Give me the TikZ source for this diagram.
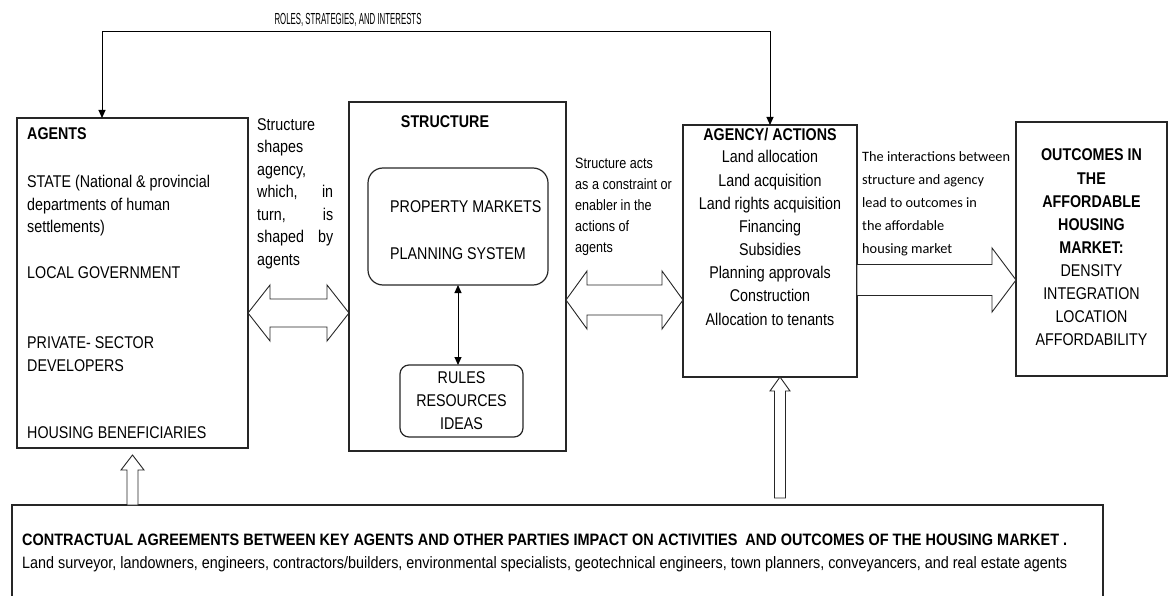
\documentclass[tikz,border=0pt]{standalone}
\usepackage{fontspec}
\setmainfont{Liberation Sans}[FakeStretch=0.84]
\newfontfamily\calfont{Carlito}
\usepackage{graphicx}
\usetikzlibrary{calc,arrows.meta}
\newcommand{\dblarr}[5]{%
  \draw[blk] (#1) -- ($(#1)+(#3,-#4)$) -- ($(#1)+(#3,-#5)$) -- ($(#2)+(-#3,-#5)$)
    -- ($(#2)+(-#3,-#4)$) -- (#2) -- ($(#2)+(-#3,#4)$) -- ($(#2)+(-#3,#5)$)
    -- ($(#1)+(#3,#5)$) -- ($(#1)+(#3,#4)$) -- cycle;}
\newcommand{\uparr}[5]{% tail, tip, headlen, headhalf, shafthalf
  \draw[blk] ($(#1)+(-#5,0)$) -- ($(#2)+(-#5,#3)$) -- ($(#2)+(-#4,#3)$) -- (#2)
    -- ($(#2)+(#4,#3)$) -- ($(#2)+(#5,#3)$) -- ($(#1)+(#5,0)$) -- cycle;}
\begin{document}
\begin{tikzpicture}[x=1pt,y=-1pt,
  box/.style={draw=black!85, line width=1.2pt, inner sep=0pt, outer sep=0pt, anchor=north west},
  t16/.style={inner sep=0pt, anchor=base west, font=\fontsize{17}{19}\selectfont},
  tb16/.style={t16, font=\fontsize{17}{19}\selectfont\bfseries},
  c16/.style={inner sep=0pt, anchor=base, font=\fontsize{17}{19}\selectfont},
  cb16/.style={c16, font=\fontsize{17}{19}\selectfont\bfseries},
  s14/.style={inner sep=0pt, anchor=base west, font=\fontsize{15}{17}\selectfont},
  cal/.style={inner sep=0pt, anchor=base west, font=\fontsize{14.3}{17}\calfont},
  blk/.style={draw=black!85, line width=0.9pt, fill=white, line join=miter},
  conn/.style={draw=black, line width=1pt},
  arrtip/.style={{Triangle[width=7pt,length=8pt]}-{Triangle[width=7pt,length=8pt]}}
]
\useasboundingbox (0,0) rectangle (1170,596);

% main boxes
\node[box, minimum width=231pt, minimum height=330pt] (agents) at (17,118) {};
\node[box, minimum width=217pt, minimum height=349pt] (structure) at (349,102) {};
\node[box, minimum width=174pt, minimum height=252pt] (agency) at (683,125) {};
\node[box, minimum width=151pt, minimum height=254pt] (outcomes) at (1016,122) {};
\node[box, minimum width=1091pt, minimum height=100pt] (bottom) at (12,505) {};
\node[box, rounded corners=15pt, minimum width=180pt, minimum height=117pt] (pm) at (368,168) {};
\node[box, rounded corners=9pt, minimum width=123pt, minimum height=72pt] (rules) at (400,365) {};

% top connector
\coordinate (tl) at ($(agents.north west)+(85,0)$);
\coordinate (topy) at (0,32);
\draw[conn, arrtip] (agency.north) -- (agency.north |- topy) -- (tl |- topy) -- (tl);
\node[inner sep=0pt, anchor=base] (roles) at (348,25)
  {\resizebox{147pt}{\height}{\fontsize{16}{18}\selectfont ROLES, STRATEGIES, AND INTERESTS}};

% inner double arrow
\draw[conn, arrtip] (pm.south) -- (pm.south |- rules.north);

% block arrows
\coordinate (y313) at (0,313);
\coordinate (la) at (agents.east |- y313);
\coordinate (ra) at (structure.west |- y313);
\dblarr{la}{ra}{22}{28}{14}
\coordinate (y300) at (0,300);
\coordinate (lb) at (structure.east |- y300);
\coordinate (rb) at (agency.west |- y300);
\dblarr{lb}{rb}{21}{29}{15}
\coordinate (y280) at (0,280);
\coordinate (lc) at (agency.east |- y280);
\coordinate (rc) at (outcomes.west |- y280);
\draw[blk] ($(lc)+(0,-15.5)$) -- ($(rc)+(-24,-15.5)$) -- ($(rc)+(-24,-32)$) -- (rc)
  -- ($(rc)+(-24,32)$) -- ($(rc)+(-24,15.5)$) -- ($(lc)+(0,15.5)$) -- cycle;
\coordinate (ua) at ($(agency.south)+(10,0)$);
\coordinate (ub) at ($(bottom.north -| ua)+(0,-7)$);
\uparr{ub}{ua}{14}{10}{5.5}
\coordinate (va) at ($(agents.south)+(0,7)$);
\coordinate (vb) at (bottom.north -| va);
\uparr{vb}{va}{15}{11.5}{5.5}

% agents text
\node[tb16] (agT) at (27,140) {AGENTS};
\node[t16] (ag1) at (27,188) {STATE (National \& provincial};
\node[t16] (ag2) at (27,210.5) {departments of human};
\node[t16] (ag3) at (27,233) {settlements)};
\node[t16] (ag4) at (27,278) {LOCAL GOVERNMENT};
\node[t16] (ag5) at (27,348) {PRIVATE- SECTOR};
\node[t16] (ag6) at (27,371) {DEVELOPERS};
\node[t16] (ag7) at (27,438) {HOUSING BENEFICIARIES};

% structure shapes agency text
\node[t16] (sh1) at (257,130.5) {\makebox[76pt][l]{Structure}};
\node[t16] (sh2) at (257,153) {\makebox[76pt][l]{shapes}};
\node[t16] (sh3) at (257,175.5) {\makebox[76pt][l]{agency,}};
\node[t16] (sh4) at (257,198) {\makebox[76pt][s]{which,\hfill in}};
\node[t16] (sh5) at (257,220.5) {\makebox[76pt][s]{turn,\hfill is}};
\node[t16] (sh6) at (257,243) {\makebox[76pt][s]{shaped\hfill by}};
\node[t16] (sh7) at (257,265.5) {\makebox[76pt][l]{agents}};

% structure text
\node[cb16] (stT) at (445,128) {STRUCTURE};
\node[t16] (st1) at (390,213) {PROPERTY MARKETS};
\node[t16] (st2) at (390,259) {PLANNING SYSTEM};
\node[c16] (ru1) at (461.5,383) {RULES};
\node[c16] (ru2) at (461.5,406) {RESOURCES};
\node[c16] (ru3) at (461.5,429) {IDEAS};

% structure acts text
\node[s14] (sa1) at (575,169) {Structure acts};
\node[s14] (sa2) at (575,190) {as a constraint or};
\node[s14] (sa3) at (575,211) {enabler in the};
\node[s14] (sa4) at (575,232) {actions of};
\node[s14] (sa5) at (575,253) {agents};

% agency text
\node[cb16] (acT) at (770,141) {AGENCY/ ACTIONS};
\node[c16] (ac1) at (770,163) {Land allocation};
\node[c16] (ac2) at (770,186.1) {Land acquisition};
\node[c16] (ac3) at (770,209.3) {Land rights acquisition};
\node[c16] (ac4) at (770,232.4) {Financing};
\node[c16] (ac5) at (770,255.6) {Subsidies};
\node[c16] (ac6) at (770,278.7) {Planning approvals};
\node[c16] (ac7) at (770,301.9) {Construction};
\node[c16] (ac8) at (770,325) {Allocation to tenants};

% interactions text
\node[cal] (in1) at (862,162) {The interactions between};
\node[cal] (in2) at (862,185) {structure and agency};
\node[cal] (in3) at (862,208) {lead to outcomes in};
\node[cal] (in4) at (862,231) {the affordable};
\node[cal] (in5) at (862,254) {housing market};

% outcomes text
\node[cb16] (ou1) at (1091.5,161) {OUTCOMES IN};
\node[cb16] (ou2) at (1091.5,184.1) {THE};
\node[cb16] (ou3) at (1091.5,207.2) {AFFORDABLE};
\node[cb16] (ou4) at (1091.5,230.3) {HOUSING};
\node[cb16] (ou5) at (1091.5,253.4) {MARKET:};
\node[c16] (ou6) at (1091.5,276.5) {DENSITY};
\node[c16] (ou7) at (1091.5,299.6) {INTEGRATION};
\node[c16] (ou8) at (1091.5,322.7) {LOCATION};
\node[c16] (ou9) at (1091.5,345.8) {AFFORDABILITY};

% bottom text
\node[inner sep=0pt, anchor=base west] (bt1) at (22,545)
  {\resizebox{1045pt}{\height}{\fontsize{16.5}{18}\selectfont\bfseries CONTRACTUAL AGREEMENTS BETWEEN KEY AGENTS AND OTHER PARTIES IMPACT ON ACTIVITIES\ \ AND OUTCOMES OF THE HOUSING MARKET .}};
\node[inner sep=0pt, anchor=base west] (bt2) at (22,568)
  {\resizebox{1045pt}{\height}{\fontsize{16.5}{18}\selectfont Land surveyor, landowners, engineers, contractors/builders, environmental specialists, geotechnical engineers, town planners, conveyancers, and real estate agents}};
\end{tikzpicture}
\end{document}
